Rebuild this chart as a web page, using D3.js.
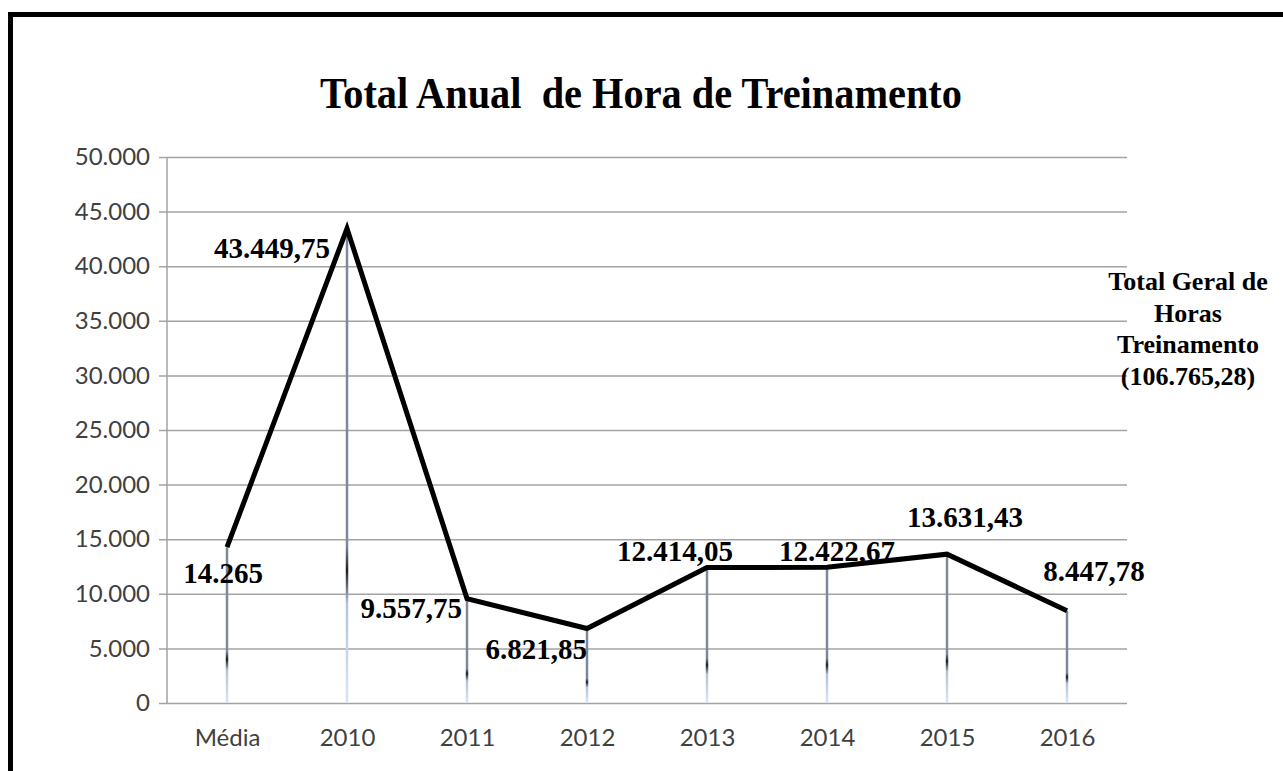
<!DOCTYPE html>
<html>
<head>
<meta charset="utf-8">
<script src="https://cdn.jsdelivr.net/npm/d3@7"></script>
<style>
  html, body { margin: 0; padding: 0; background: #fff; }
  svg { display: block; }
</style>
</head>
<body>
<svg id="chart" width="1283" height="771"></svg>
<script>
// dados
const categorias = ["Média", "2010", "2011", "2012", "2013", "2014", "2015", "2016"];
const horas      = [14265, 43449.75, 9557.75, 6821.85, 12414.05, 12422.67, 13631.43, 8447.78];
const rotulos    = ["14.265", "43.449,75", "9.557,75", "6.821,85", "12.414,05", "12.422,67", "13.631,43", "8.447,78"];
const yTicks     = [0, 5000, 10000, 15000, 20000, 25000, 30000, 35000, 40000, 45000, 50000];
const titulo     = "Total Anual  de Hora de Treinamento";
const notaTotal  = ["Total Geral de", "Horas", "Treinamento", "(106.765,28)"];

// onde cada rótulo fica em relação ao ponto (layout, não dados)
const posRotulo = [
  {dx: -4,  dy: 36,  anchor: "middle"},
  {dx: -17, dy: 29,  anchor: "end"},
  {dx: -5,  dy: 19,  anchor: "end"},
  {dx: 0,   dy: 30,  anchor: "end"},
  {dx: -32, dy: -6,  anchor: "middle"},
  {dx: 10,  dy: -6,  anchor: "middle"},
  {dx: 18,  dy: -27, anchor: "middle"},
  {dx: 27,  dy: -30, anchor: "middle"}
];

class lineChart {
  constructor(){
    this.svg;
    this.x;
    this.y;
    this.left   = 167;
    this.right  = 1127;
    this.top    = 157;
    this.bottom = 703;
  }
  init(element){
    let $this = this;
    $this.svg = d3.select(element);
    $this.x   = d3.scalePoint()
                  .domain(categorias)
                  .range([$this.left, $this.right])
                  .padding(0.5);
    $this.y   = d3.scaleLinear()
                  .domain([0, 50000])
                  .range([$this.bottom, $this.top]);
  }
  draw(){
    let $this = this;
    let svg   = $this.svg;
    let x = $this.x, y = $this.y;
    let fmt = d3.formatLocale({decimal: ",", thousands: ".", grouping: [3], currency: ["", ""]}).format(",d");

    // moldura (só esquerda e topo aparecem)
    svg.append("path")
      .attr("d", "M10.5,771 V14.5 H1283")
      .attr("fill", "none")
      .attr("stroke", "#000")
      .attr("stroke-width", 5);

    // título
    svg.append("text")
      .attr("x", 641)
      .attr("y", 108)
      .attr("text-anchor", "middle")
      .attr("font-family", "'Liberation Serif', 'Times New Roman', serif")
      .attr("font-weight", "bold")
      .attr("font-size", 44)
      .attr("textLength", 642)
      .attr("lengthAdjust", "spacingAndGlyphs")
      .attr("fill", "#000")
      .style("white-space", "pre")
      .text(titulo);

    // eixo y com grade
    let yAxis = d3.axisLeft(y)
                  .tickValues(yTicks)
                  .tickSize(-($this.right - $this.left))
                  .tickPadding(17)
                  .tickFormat(fmt);
    let gy = svg.append("g")
      .attr("transform", "translate(" + $this.left + ",0)")
      .call(yAxis);
    gy.select(".domain").remove();
    gy.selectAll(".tick line")
      .attr("x1", -8)
      .attr("stroke", "#a3a3a3")
      .attr("stroke-width", 1.5);
    gy.selectAll(".tick text")
      .attr("font-family", "Lato, 'Open Sans', sans-serif")
      .attr("font-size", 24)
      .attr("fill", "#404040");

    svg.append("line")
      .attr("x1", $this.left).attr("x2", $this.left)
      .attr("y1", $this.top).attr("y2", $this.bottom)
      .attr("stroke", "#a3a3a3")
      .attr("stroke-width", 1.5);

    // eixo x
    let gx = svg.append("g")
      .attr("transform", "translate(0," + $this.bottom + ")")
      .call(d3.axisBottom(x).tickSize(0).tickPadding(26));
    gx.select(".domain").remove();
    gx.selectAll(".tick text")
      .attr("font-family", "Lato, 'Open Sans', sans-serif")
      .attr("font-size", 24)
      .attr("fill", "#404040");

    // linhas de queda com degradê
    let defs = svg.append("defs");
    categorias.forEach((c, i) => {
      let g = defs.append("linearGradient")
        .attr("id", "queda" + i)
        .attr("gradientUnits", "userSpaceOnUse")
        .attr("x1", 0).attr("x2", 0)
        .attr("y1", y(horas[i])).attr("y2", $this.bottom);
      [[0, "#7d889e"], [0.67, "#7d889e"], [0.72, "#1e1e1e"], [0.79, "#b3c3e0"], [1, "#dae5f8"]]
        .forEach(s => g.append("stop").attr("offset", s[0]).attr("stop-color", s[1]));
    });
    svg.append("g")
      .selectAll("line")
      .data(horas)
      .join("line")
      .attr("x1", (d, i) => x(categorias[i]))
      .attr("x2", (d, i) => x(categorias[i]))
      .attr("y1", d => y(d))
      .attr("y2", $this.bottom)
      .attr("stroke", (d, i) => "url(#queda" + i + ")")
      .attr("stroke-width", 2.5);

    // linha principal
    let line = d3.line()
      .x((d, i) => x(categorias[i]))
      .y(d => y(d));
    svg.append("path")
      .datum(horas)
      .attr("d", line)
      .attr("fill", "none")
      .attr("stroke", "#000")
      .attr("stroke-width", 5)
      .attr("stroke-linejoin", "miter")
      .attr("stroke-miterlimit", 10);

    // rótulos dos pontos
    svg.append("g")
      .attr("font-family", "'Liberation Serif', 'Times New Roman', serif")
      .attr("font-weight", "bold")
      .attr("font-size", 29)
      .attr("fill", "#000")
      .selectAll("text")
      .data(horas)
      .join("text")
      .attr("x", (d, i) => x(categorias[i]) + posRotulo[i].dx)
      .attr("y", (d, i) => y(d) + posRotulo[i].dy)
      .attr("text-anchor", (d, i) => posRotulo[i].anchor)
      .text((d, i) => rotulos[i]);

    // total geral à direita
    let nota = svg.append("text")
      .attr("x", 1188)
      .attr("y", 290)
      .attr("text-anchor", "middle")
      .attr("font-family", "'Liberation Serif', 'Times New Roman', serif")
      .attr("font-weight", "bold")
      .attr("font-size", 26)
      .attr("fill", "#000");
    notaTotal.forEach((t, i) => {
      nota.append("tspan")
        .attr("x", 1188)
        .attr("dy", i == 0 ? 0 : 31.5)
        .text(t);
    });
  }
}

let chart = new lineChart();
chart.init(document.getElementById("chart"));
chart.draw();
</script>
</body>
</html>
